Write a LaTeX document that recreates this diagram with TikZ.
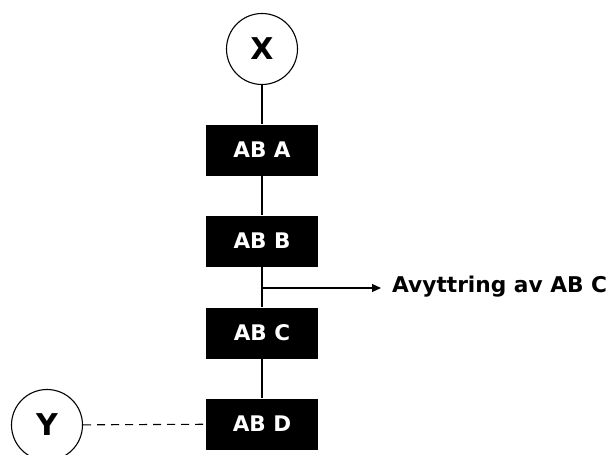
\documentclass[tikz,border=0pt]{standalone}
\usepackage{fontspec}
\setmainfont{DejaVu Sans}
\usetikzlibrary{arrows.meta}
\begin{document}
\begin{tikzpicture}[x=1pt,y=-1pt,
  company/.style={fill=black,text=white,minimum width=112pt,minimum height=51pt,inner sep=0pt,font=\fontsize{21.5}{22}\selectfont\bfseries},
  owner/.style={circle,draw,line width=1.1pt,minimum size=71pt,inner sep=0pt,font=\fontsize{30}{31}\selectfont\bfseries},
  link/.style={line width=1.1pt},
  lbl/.style={font=\fontsize{21.7}{22}\selectfont\bfseries,inner sep=0pt,anchor=west}]
\useasboundingbox (0,0) rectangle (616,455);
\clip (0,0) rectangle (616,455);
\node[owner] (X) at (262,49) {X};
\node[company] (A) at (262,150) {AB A};
\node[company] (B) at (262,241) {AB B};
\node[company] (C) at (262,333) {AB C};
\node[company] (D) at (262,424) {AB D};
\node[owner] (Y) at (47,425) {Y};
\node[lbl] (T) at (392,287) {Avyttring av AB C};
\draw[link] (X) -- (A);
\draw[link] (A) -- (B);
\draw[link] (B) -- (C);
\draw[link] (C) -- (D);
\coordinate (br) at (262,288);
\draw[link,-{Triangle[length=9pt,width=8pt]}] (br) -- ([xshift=-11pt]T.west |- br);
\draw[link,dash pattern=on 8pt off 6pt] (Y) -- (D);
\end{tikzpicture}
\end{document}
